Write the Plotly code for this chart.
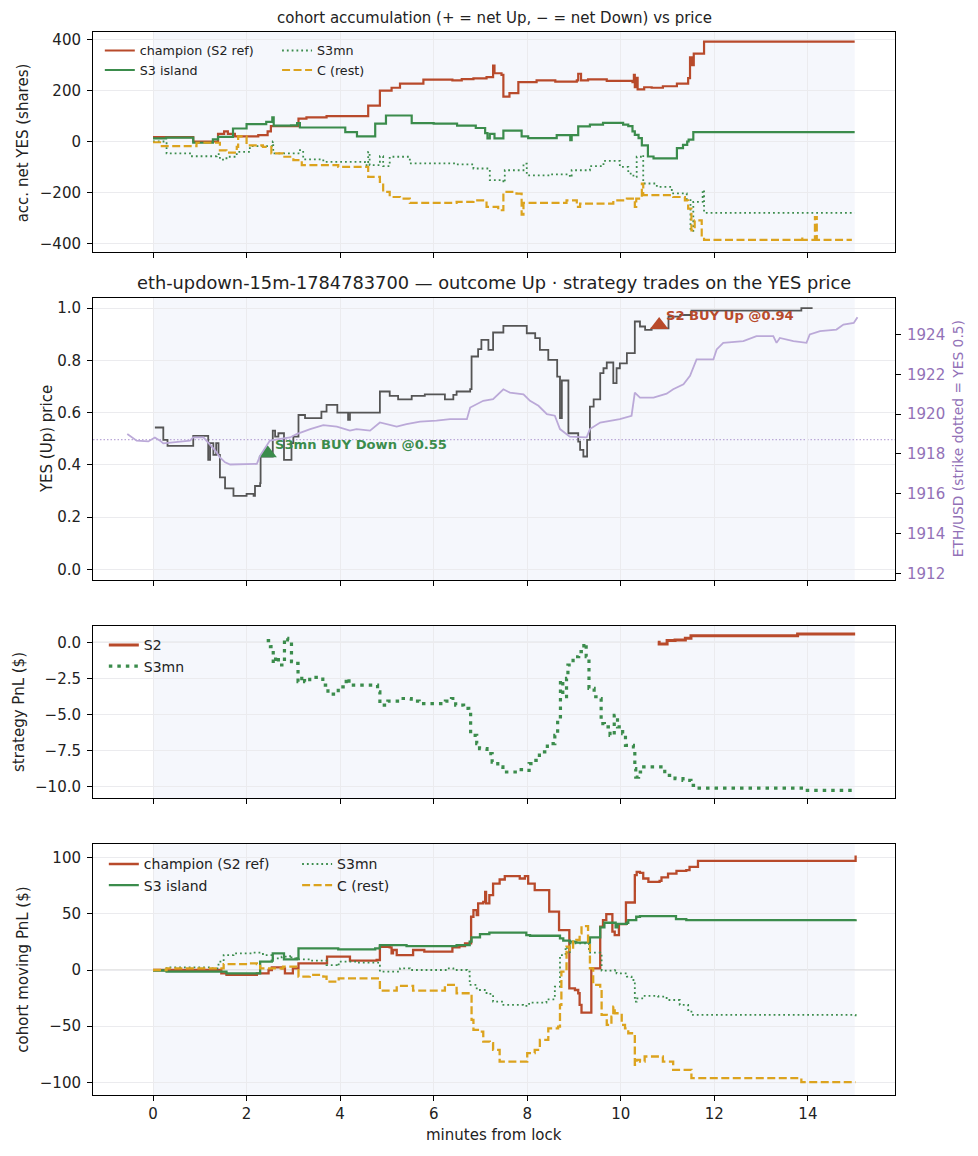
import plotly.graph_objects as go

# colours
CHAMP = '#b84a2b'
GREEN = '#3b8c4c'
GOLD = '#dca31e'
PRICE = '#555555'
ETH_LINE = '#bba9d8'
ETH_TEXT = '#9271b7'
SHADE = '#f5f7fc'
GRID = '#ebebee'
TEXT = '#222222'
FONT = 'DejaVu Sans'

# ---- panel 1: cohort accumulation (net YES shares) ----
ACC_CHAMP_T = [0.0, 0.86, 1.39, 1.52, 1.6, 1.75, 2.25, 2.45, 2.52, 2.95, 3.11, 3.28, 3.71, 4.6, 4.85,
               5.1, 5.28, 5.78, 6.4, 6.6, 6.85, 7.13, 7.27, 7.3, 7.45, 7.49, 7.62, 7.81, 8.2, 8.6, 9.06,
               9.09, 9.15, 9.3, 9.7, 10.25, 10.28, 10.3, 10.33, 10.36, 10.5, 10.66, 10.9, 11.2, 11.44,
               11.48, 11.52, 11.56, 11.64, 11.78, 15.0]
ACC_CHAMP_V = [17, 0, 30, 40, 30, 20, 25, 40, 60, 60, 90, 95, 100, 141, 200,
               211, 227, 243, 240, 245, 248, 253, 298, 268, 262, 176, 190, 233, 240, 235, 240,
               266, 240, 244, 238, 233, 262, 213, 250, 205, 213, 211, 217, 227, 249,
               330, 300, 345, 345, 392, 392]

ACC_ISLAND_T = [0.0, 0.28, 0.86, 1.28, 1.39, 1.71, 2.0, 2.42, 2.55, 2.58, 2.95, 3.08, 3.14, 4.11, 4.36,
                4.72, 4.75, 4.98, 5.5, 5.53, 6.0, 6.5, 6.9, 7.1, 7.15, 7.2, 7.3, 7.49, 7.85, 7.88,
                8.02, 8.45, 8.63, 8.9, 8.92, 8.95, 9.09, 9.34, 9.62, 10.05, 10.16, 10.25, 10.3, 10.38,
                10.45, 10.58, 10.7, 11.17, 11.2, 11.33, 11.42, 11.45, 11.55, 15.0]
ACC_ISLAND_V = [12, 15, -5, 8, 18, 51, 68, 77, 95, 62, 63, 72, 55, 37, 20,
                20, 70, 102, 102, 72, 70, 62, 53, 33, 12, 30, 12, 43, 43, 20,
                13, 13, 25, 25, 5, 25, 59, 66, 73, 66, 60, 40, 26, 13,
                -15, -59, -66, -66, -26, -13, 0, 7, 37, 37]

ACC_S3MN_T = [0.0, 0.29, 0.79, 1.36, 1.43, 1.57, 1.79, 2.07, 2.56, 2.57, 3.11, 3.21, 3.64, 4.53, 4.6,
              4.63, 4.85, 4.92, 5.06, 5.49, 6.49, 6.85, 7.2, 7.49, 7.52, 7.92, 7.99, 8.49, 8.91, 8.95,
              9.06, 9.34, 9.63, 9.91, 9.98, 10.16, 10.27, 10.34, 10.45, 10.48, 10.77, 11.09, 11.41,
              11.49, 11.55, 11.75, 11.78, 15.0]
ACC_S3MN_V = [0, -47, -58, -50, -71, -60, -41, -18, 0, -47, -34, -70, -80, -93, -41,
              -93, -58, -97, -60, -86, -90, -106, -152, -161, -113, -87, -133, -129, -140, -113,
              -113, -97, -76, -76, -100, -126, -139, -60, -54, -165, -178, -204, -230,
              -351, -237, -191, -280, -280]

ACC_REST_T = [0.0, 0.15, 0.79, 0.93, 1.39, 1.43, 1.57, 1.79, 1.82, 2.0, 2.35, 2.53, 2.78, 3.0, 3.18,
              3.96, 4.6, 4.85, 4.92, 5.06, 5.28, 5.49, 6.49, 6.85, 7.13, 7.27, 7.38, 7.49, 7.77, 7.88,
              7.92, 8.84, 9.06, 9.13, 9.84, 10.13, 10.3, 10.33, 10.45, 10.48, 11.12, 11.37, 11.44,
              11.51, 11.58, 11.73, 11.78, 13.86, 13.88, 14.15, 14.19, 14.94]
ACC_REST_V = [-3, -18, -18, -5, -5, -35, -44, -21, 20, -15, -21, -47, -60, -73, -93,
              -100, -139, -159, -198, -218, -224, -241, -237, -231, -257, -257, -270, -198, -205, -287,
              -241, -231, -257, -244, -231, -224, -257, -224, -165, -211, -218, -231, -264,
              -349, -310, -369, -386, -375, -386, -297, -386, -386]

# ---- panel 2: YES price and ETH/USD ----
YES_T = [0.04, 0.22, 0.31, 0.86, 1.18, 1.22, 1.29, 1.35, 1.4, 1.43, 1.54, 1.72, 2.0, 2.15, 2.18,
         2.29, 2.3, 2.56, 2.61, 2.68, 2.8, 2.96, 3.0, 3.11, 3.25, 3.6, 3.71, 3.94, 4.17, 4.21,
         4.85, 5.06, 5.24, 5.53, 5.81, 6.24, 6.42, 6.49, 6.78, 6.81, 6.95, 7.02, 7.17, 7.27, 7.49,
         7.95, 7.99, 8.17, 8.27, 8.45, 8.64, 8.7, 8.74, 8.88, 9.09, 9.13, 9.2, 9.28, 9.34, 9.42,
         9.56, 9.63, 9.7, 9.84, 9.91, 9.98, 10.13, 10.3, 10.41, 10.52, 10.66, 11.02, 11.27, 11.51,
         13.86, 14.1]
YES_P = [0.543, 0.496, 0.473, 0.511, 0.419, 0.483, 0.438, 0.483, 0.438, 0.352, 0.31, 0.281, 0.289, 0.281, 0.319,
         0.33, 0.432, 0.531, 0.508, 0.521, 0.419, 0.483, 0.508, 0.591, 0.579, 0.604, 0.63, 0.6, 0.572, 0.6,
         0.681, 0.664, 0.651, 0.664, 0.67, 0.651, 0.668, 0.681, 0.69, 0.815, 0.843, 0.879, 0.84, 0.907, 0.932,
         0.932, 0.904, 0.885, 0.84, 0.802, 0.738, 0.579, 0.723, 0.521, 0.489, 0.457, 0.432, 0.496, 0.623, 0.651,
         0.751, 0.77, 0.792, 0.713, 0.77, 0.789, 0.828, 0.949, 0.93, 0.917, 0.923, 0.968, 0.974, 0.991,
         1.0, 1.0]

ETH_T = [-0.55, -0.35, -0.1, 0.04, 0.15, 0.22, 0.79, 0.86, 1.08, 1.18, 1.33, 1.43, 1.54, 1.65, 2.22,
         2.29, 2.36, 2.5, 2.79, 2.93, 3.07, 3.36, 3.64, 3.93, 4.21, 4.35, 4.64, 4.85, 5.21, 5.42,
         5.71, 6.06, 6.35, 6.71, 6.78, 7.06, 7.27, 7.49, 7.63, 7.92, 8.06, 8.24, 8.42, 8.59, 8.7,
         8.84, 8.91, 9.27, 9.34, 9.56, 9.98, 10.23, 10.3, 10.41, 10.7, 10.98, 11.12, 11.34, 11.48,
         11.62, 11.98, 12.05, 12.19, 12.62, 12.9, 13.26, 13.33, 13.4, 13.69, 13.97, 14.04, 14.26,
         14.61, 14.76, 14.98, 15.06]
ETH_P = [1919.0, 1918.67, 1918.63, 1918.83, 1918.67, 1918.53, 1918.67, 1918.83, 1918.83, 1918.58, 1918.17,
         1917.83, 1917.58, 1917.47, 1917.5, 1917.92, 1918.17, 1918.67, 1918.78, 1918.83, 1919.0, 1919.25,
         1919.45, 1919.37, 1919.17, 1919.25, 1919.17, 1919.58, 1919.37, 1919.5, 1919.62, 1919.67, 1919.75,
         1919.75, 1920.33, 1920.67, 1920.75, 1921.25, 1921.08, 1921.0, 1920.67, 1920.42, 1920.0, 1919.92,
         1919.25, 1919.0, 1918.87, 1918.83, 1919.25, 1919.58, 1919.75, 1919.92, 1921.08, 1920.83, 1920.83,
         1921.03, 1921.25, 1921.5, 1921.92, 1922.75, 1922.75, 1923.25, 1923.58, 1923.67, 1923.92, 1923.92,
         1923.58, 1923.83, 1923.67, 1923.58, 1924.0, 1924.17, 1924.25, 1924.5, 1924.58, 1924.87]
STRIKE = 1918.72

TRADE_T = [2.45, 10.82]
TRADE_YES = [0.444, 0.936]
TRADE_LABEL = ['S3mn BUY Down @0.55', 'S2 BUY Up @0.94']

# ---- panel 3: strategy PnL ----
S2_PNL_T = [10.79, 10.82, 10.99, 11.16, 11.38, 11.5, 13.78, 15.01]
S2_PNL_V = [0.0, -0.12, 0.12, 0.16, 0.28, 0.46, 0.58, 0.58]

S3MN_PNL_T = [2.43, 2.51, 2.57, 2.62, 2.68, 2.81, 2.88, 2.96, 3.05, 3.1, 3.18, 3.24, 3.35, 3.63, 3.74,
              3.91, 3.96, 4.13, 4.19, 4.8, 4.85, 5.02, 5.3, 5.52, 5.69, 6.25, 6.38, 6.47, 6.64, 6.75,
              6.79, 6.92, 6.98, 7.14, 7.25, 7.37, 7.48, 7.81, 7.92, 8.04, 8.15, 8.26, 8.43, 8.59, 8.65,
              8.71, 8.76, 8.84, 8.87, 8.98, 9.1, 9.21, 9.26, 9.32, 9.43, 9.54, 9.58, 9.65, 9.77, 9.86,
              9.93, 10.04, 10.1, 10.27, 10.3, 10.32, 10.38, 10.49, 10.94, 11.16, 11.33, 11.5, 11.61,
              13.9, 15.01]
S3MN_PNL_V = [0.12, -0.3, -1.46, -1.0, -1.57, 0.28, 0.16, -1.34, -1.46, -2.73, -2.38, -2.73, -2.43, -2.96, -3.59,
              -3.54, -3.08, -2.5, -2.96, -3.43, -4.35, -4.07, -3.89, -4.07, -4.24, -4.07, -3.89, -4.35, -4.58, -4.75,
              -6.44, -7.01, -7.36, -7.71, -8.29, -8.63, -8.98, -8.82, -8.87, -8.4, -8.17, -7.59, -7.01, -6.44, -5.16,
              -2.62, -3.77, -2.5, -1.57, -1.0, -0.65, -0.07, -1.0, -3.19, -3.77, -3.89, -5.63, -5.86, -6.44, -5.05,
              -5.86, -6.32, -7.13, -7.25, -8.75, -9.33, -8.98, -8.63, -9.21, -9.44, -9.56, -9.91, -10.09,
              -10.25, -10.25]

# ---- panel 4: cohort moving PnL ----
MPNL_CHAMP_T = [0.0, 1.46, 1.57, 2.18, 2.22, 2.47, 2.54, 2.75, 2.82, 2.96, 2.99, 3.11, 3.71, 3.72, 4.19,
                4.21, 4.78, 4.85, 5.06, 5.1, 5.13, 5.21, 5.56, 5.8, 6.35, 6.4, 6.55, 6.67, 6.8, 6.85,
                6.92, 6.95, 7.06, 7.1, 7.12, 7.19, 7.27, 7.41, 7.52, 7.81, 7.84, 7.95, 8.02, 8.16, 8.44,
                8.47, 8.66, 8.68, 8.87, 8.9, 9.02, 9.09, 9.12, 9.16, 9.34, 9.37, 9.54, 9.56, 9.62, 9.69,
                9.8, 9.82, 9.87, 9.94, 9.96, 10.09, 10.11, 10.28, 10.3, 10.34, 10.41, 10.48, 10.59, 10.83,
                10.87, 11.01, 11.19, 11.4, 11.47, 11.65, 15.0, 15.02]
MPNL_CHAMP_V = [0, -3, -4.4, -4.4, -3, 0, 2.4, 1.5, -3, -3, 1.5, 5.9, 5.9, 11.9, 11.9,
                8.3, 8.9, 20.7, 20.1, 14.8, 17.8, 13.3, 17.8, 16.3, 16.3, 20.1, 21.3, 23.7, 47.4, 53.3,
                48.9, 59.3, 60.7, 69.6, 59.3, 66.7, 77, 80.6, 83.6, 83.6, 81.5, 83.6, 77, 71.1, 71.1,
                51.9, 51.9, 35.6, 35.6, -16.3, -17.8, -20.7, -31, -37.9, -37.9, 1.5, 1.5, 38.5, 44.4, 49.8,
                49.8, 34.1, 31.1, 31.1, 40.9, 40.9, 60.1, 60.1, 84.4, 87.4, 86.5, 81.5, 78.5, 79.4,
                82.4, 85.9, 88.3, 88.9, 91.9, 97.2, 97.2, 102]

MPNL_ISLAND_T = [0.0, 0.29, 1.36, 1.57, 2.22, 2.29, 2.54, 2.56, 2.78, 2.8, 3.08, 3.11, 3.96, 4.75, 4.85,
                 5.42, 6.49, 6.77, 6.81, 6.99, 7.19, 7.9, 7.98, 8.06, 8.6, 8.7, 8.77, 8.91, 9.05, 9.3,
                 9.34, 9.54, 9.56, 9.65, 9.86, 9.89, 9.93, 10.13, 10.16, 10.3, 10.33, 10.41, 11.12, 11.18,
                 11.4, 15.0, 15.02]
MPNL_ISLAND_V = [-0.5, -1.5, -1.5, -3, -3, 7.4, 8.3, 14.8, 14.8, 9.5, 10.4, 19.3, 18.4, 19.3, 22.2,
                 21.3, 22.2, 25.2, 29.0, 32, 33.2, 33.2, 31.1, 30.5, 30.5, 28.1, 26.1, 25.2, 24.3, 24.3,
                 29.0, 29.0, 37.9, 42.1, 42.1, 38, 41, 42.1, 44.4, 44.4, 47.4, 48.0, 48.0, 45.3,
                 44.4, 44.4, 45.3]

MPNL_S3MN_T = [0.0, 0.29, 0.79, 1.22, 1.4, 1.51, 1.72, 2.14, 2.35, 2.54, 2.75, 2.89, 2.93, 2.96, 3.08,
               3.35, 3.64, 3.71, 3.93, 3.97, 4.35, 4.78, 4.85, 5.28, 5.49, 5.78, 6.28, 6.42, 6.71, 6.77,
               6.92, 7.13, 7.27, 7.49, 7.91, 8.01, 8.04, 8.41, 8.56, 8.59, 8.7, 8.82, 8.85, 8.91, 9.3,
               9.32, 9.56, 9.59, 9.88, 9.91, 10.13, 10.23, 10.3, 10.34, 10.48, 10.8, 10.98, 11.26, 11.44,
               11.51, 15.0, 15.02]
MPNL_S3MN_V = [0, 2.4, 2.4, 1.5, 7.4, 13.3, 14.8, 15.4, 13.3, 10.4, 11.9, 11.9, 13.3, 10.4, 9.5,
               8.3, 8.3, 4.4, 3.5, 7.4, 6.5, 6.5, -1.5, 1.5, 0, 0, 1.5, 0, -1.5, -13.3,
               -17.8, -21.3, -28.1, -31.1, -32, -31.7, -29.0, -26.1, -26.1, -14.8, 13.3, 20.7, 14.8, 23.7, 23.7,
               15.4, 14.8, -0.6, 0, -3, -5.9, -8.9, -28.1, -25.2, -23.1, -23.7, -26.7, -31.1, -35.6,
               -40, -40, -41.5]

MPNL_REST_T = [0.0, 0.29, 1.43, 1.51, 2.07, 2.22, 2.29, 2.54, 2.78, 3.06, 3.11, 3.35, 3.64, 3.71, 3.96,
               3.97, 4.78, 4.85, 5.21, 5.53, 5.56, 6.21, 6.24, 6.42, 6.49, 6.77, 6.81, 6.85, 7.03, 7.06,
               7.2, 7.27, 7.41, 7.96, 8.0, 8.16, 8.27, 8.45, 8.66, 8.7, 8.73, 8.84, 8.91, 8.98, 9.05,
               9.12, 9.16, 9.27, 9.3, 9.34, 9.41, 9.56, 9.59, 9.7, 9.8, 9.84, 9.87, 10.02, 10.09, 10.16,
               10.27, 10.3, 10.34, 10.41, 10.51, 10.83, 10.9, 11.12, 11.4, 11.51, 13.84, 13.86, 15.02]
MPNL_REST_V = [0, 1.5, 1.5, 5.3, 5.9, 5.3, 1.5, 1.5, 3, 1.5, -5.9, -4.4, -5.9, -10.4, -10.4,
               -7.4, -7.4, -18.4, -14.2, -14.2, -18.4, -18.4, -13.3, -13.3, -20.7, -23.1, -44.4, -53.3, -54.8, -63.7,
               -65.2, -71.1, -81.5, -81.5, -74, -71.1, -62.2, -51.9, -50.4, -31.1, -1.5, 20.7, 17.8, 25.2, 26.7,
               32.6, 39.1, 39.1, 25.2, 1.5, -13.3, -14.8, -40, -48.9, -41.5, -32.6, -38.5, -48.9, -51.9, -56.3,
               -56.3, -84.4, -80, -81.5, -77, -77, -81.5, -88.9, -88.9, -96.3, -96.3, -99.9, -99.9]

X_RANGE = [-1.283, 15.862]
LOCK_WINDOW = [0, 15]

# panel domains (fractions of the plot area, bottom to top)
DOMAINS = {1: [0.7928, 1.0], 2: [0.4845, 0.7495], 3: [0.2794, 0.4412], 4: [0.0, 0.2358]}


def step(x, y, xa, ya, name, color, width, dash='solid', legend=None, group=None):
    """A post-step line trace."""
    return go.Scatter(x=x, y=y, xaxis=xa, yaxis=ya, mode='lines', name=name,
                      line={'color': color, 'width': width, 'dash': dash, 'shape': 'hv'},
                      showlegend=legend is not None, legend=legend or 'legend',
                      legendgroup=group, hoverinfo='skip')


traces = [
    # panel 1
    step(ACC_CHAMP_T, ACC_CHAMP_V, 'x', 'y', 'champion (S2 ref)', CHAMP, 2.2, legend='legend', group='a'),
    step(ACC_ISLAND_T, ACC_ISLAND_V, 'x', 'y', 'S3 island', GREEN, 2.2, legend='legend', group='b'),
    step(ACC_S3MN_T, ACC_S3MN_V, 'x', 'y', 'S3mn', GREEN, 1.8, dash='1.8px,3px', legend='legend2', group='c'),
    step(ACC_REST_T, ACC_REST_V, 'x', 'y', 'C (rest)', GOLD, 2.2, dash='8px,3.5px', legend='legend2', group='d'),
    # panel 2
    step(YES_T, YES_P, 'x2', 'y2', 'YES', PRICE, 1.8),
    go.Scatter(x=ETH_T, y=ETH_P, xaxis='x2', yaxis='y5', mode='lines', showlegend=False,
               line={'color': ETH_LINE, 'width': 1.8}, hoverinfo='skip'),
    go.Scatter(x=TRADE_T[:1], y=TRADE_YES[:1], xaxis='x2', yaxis='y2', mode='markers', showlegend=False,
               marker={'symbol': 'triangle-up', 'size': 16, 'color': GREEN}, hoverinfo='skip'),
    go.Scatter(x=TRADE_T[1:], y=TRADE_YES[1:], xaxis='x2', yaxis='y2', mode='markers', showlegend=False,
               marker={'symbol': 'triangle-up', 'size': 16, 'color': CHAMP}, hoverinfo='skip'),
    # panel 3
    step(S2_PNL_T, S2_PNL_V, 'x3', 'y3', 'S2', CHAMP, 3.0, legend='legend3', group='e'),
    step(S3MN_PNL_T, S3MN_PNL_V, 'x3', 'y3', 'S3mn', GREEN, 3.2, dash='3.5px,5px', legend='legend3', group='f'),
    # panel 4
    step(MPNL_CHAMP_T, MPNL_CHAMP_V, 'x4', 'y4', 'champion (S2 ref)', CHAMP, 2.3, legend='legend4', group='g'),
    step(MPNL_ISLAND_T, MPNL_ISLAND_V, 'x4', 'y4', 'S3 island', GREEN, 2.3, legend='legend4', group='h'),
    step(MPNL_S3MN_T, MPNL_S3MN_V, 'x4', 'y4', 'S3mn', GREEN, 1.8, dash='1.8px,3px', legend='legend5', group='i'),
    step(MPNL_REST_T, MPNL_REST_V, 'x4', 'y4', 'C (rest)', GOLD, 2.3, dash='8px,3.5px', legend='legend5', group='j'),
]

fig = go.Figure(data=traces)

tick_font = {'family': FONT, 'size': 15, 'color': TEXT}
x_common = dict(range=X_RANGE, showline=True, linecolor='black', linewidth=1, mirror=True,
                ticks='outside', ticklen=5, tickcolor='black', dtick=2, tick0=0,
                showgrid=True, gridcolor=GRID, gridwidth=1, zeroline=False, tickfont=tick_font)
y_common = dict(showline=True, linecolor='black', linewidth=1, mirror=True,
                ticks='outside', ticklen=5, tickcolor='black', ticklabelstandoff=3,
                showgrid=True, gridcolor=GRID, gridwidth=1, zeroline=False, tickfont=tick_font)

# the page body adds an 8px offset, so the figure is 8px smaller than the window
layout = dict(
    width=970, height=1148, margin={'l': 85, 'r': 83, 't': 24, 'b': 61},
    paper_bgcolor='white', plot_bgcolor='white',
    font={'family': FONT, 'color': TEXT},
)
for i in range(1, 5):
    key = 'xaxis' if i == 1 else f'xaxis{i}'
    layout[key] = dict(x_common, anchor='y' if i == 1 else f'y{i}', showticklabels=(i == 4),
                       **({} if i == 1 else {'matches': 'x'}))
layout['yaxis'] = dict(y_common, domain=DOMAINS[1], anchor='x', range=[-435, 430], tickvals=[-400, -200, 0, 200, 400])
layout['yaxis2'] = dict(y_common, domain=DOMAINS[2], anchor='x2', range=[-0.041, 1.038],
                        tickvals=[0, 0.2, 0.4, 0.6, 0.8, 1.0], tickformat='.1f')
layout['yaxis3'] = dict(y_common, domain=DOMAINS[3], anchor='x3', range=[-10.78, 1.13],
                        tickvals=[-10, -7.5, -5, -2.5, 0], tickformat='.1f')
layout['yaxis4'] = dict(y_common, domain=DOMAINS[4], anchor='x4', range=[-111.3, 111.9],
                        tickvals=[-100, -50, 0, 50, 100])
layout['yaxis5'] = dict(overlaying='y2', anchor='x2', side='right', range=[1911.67, 1925.82],
                        tickvals=list(range(1912, 1925, 2)), showgrid=False, zeroline=False,
                        ticks='outside', ticklen=5, tickcolor='black', ticklabelstandoff=3,
                        tickfont={'family': FONT, 'size': 15, 'color': ETH_TEXT})

legend_common = dict(bgcolor='rgba(0,0,0,0)', borderwidth=0, xanchor='left', yanchor='top',
                     itemwidth=30, tracegroupgap=0, traceorder='grouped')
layout['legend'] = dict(legend_common, x=0.0085, y=0.9965, font={'family': FONT, 'size': 12.7, 'color': TEXT})
layout['legend2'] = dict(legend_common, x=0.2295, y=0.9965, font={'family': FONT, 'size': 12.7, 'color': TEXT})
layout['legend3'] = dict(legend_common, x=0.0135, y=0.4380, font={'family': FONT, 'size': 14, 'color': TEXT})
layout['legend4'] = dict(legend_common, x=0.0135, y=0.2320, font={'family': FONT, 'size': 14, 'color': TEXT})
layout['legend5'] = dict(legend_common, x=0.2545, y=0.2320, font={'family': FONT, 'size': 14, 'color': TEXT})

fig.update_layout(layout)

# lock window shading and zero lines
for i, ax in enumerate(['x', 'x2', 'x3', 'x4'], start=1):
    yref = 'y domain' if i == 1 else f'y{i} domain'
    fig.add_shape(type='rect', xref=ax, yref=yref, x0=LOCK_WINDOW[0], x1=LOCK_WINDOW[1], y0=0, y1=1,
                  fillcolor=SHADE, line={'width': 0}, layer='below')
for i in [1, 3, 4]:
    ax = 'x' if i == 1 else f'x{i}'
    ya = 'y' if i == 1 else f'y{i}'
    fig.add_shape(type='line', xref=f'{ax} domain', yref=ya, x0=0, x1=1, y0=0, y1=0,
                  line={'color': '#cfcfcf', 'width': 1.2}, layer='below')
fig.add_shape(type='line', xref='x2 domain', yref='y5', x0=0, x1=1, y0=STRIKE, y1=STRIKE,
              line={'color': ETH_LINE, 'width': 1.2, 'dash': '1.5px,2px'}, layer='below')

# trade labels
for t, p, label, colour in zip(TRADE_T, TRADE_YES, TRADE_LABEL, [GREEN, CHAMP]):
    fig.add_annotation(x=t, y=p, xref='x2', yref='y2', text=f'<b>{label}</b>', showarrow=False,
                       xanchor='left', yanchor='middle', xshift=5, yshift=9,
                       font={'family': FONT, 'size': 13.1, 'color': colour})


# titles and axis labels
def paper_text(x, y, text, size=15, angle=0, colour=TEXT):
    fig.add_annotation(x=x, y=y, xref='paper', yref='paper', text=text, showarrow=False,
                       xanchor='center', yanchor='middle', textangle=angle,
                       font={'family': FONT, 'size': size, 'color': colour})


paper_text(0.5, 1.0132, 'cohort accumulation (+ = net Up, \u2212 = net Down) vs price', size=15)
paper_text(0.5, 0.7639, 'eth-updown-15m-1784783700 \u2014 outcome Up \u00b7 strategy trades on the YES price', size=17.8)
paper_text(-0.0873, 0.8962, 'acc. net YES (shares)', angle=-90)
paper_text(-0.0574, 0.6170, 'YES (Up) price', angle=-90)
paper_text(-0.0923, 0.3603, 'strategy PnL ($)', angle=-90)
paper_text(-0.0873, 0.1179, 'cohort moving PnL ($)', angle=-90)
paper_text(1.0786, 0.6170, 'ETH/USD (strike dotted = YES 0.5)', size=13.8, angle=-90, colour=ETH_TEXT)
paper_text(0.5, -0.0376, 'minutes from lock')

fig.write_html("out.html")
